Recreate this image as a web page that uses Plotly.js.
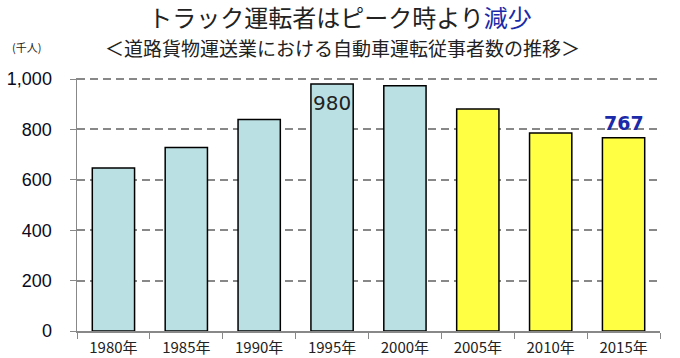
<!DOCTYPE html>
<html><head><meta charset="utf-8">
<script src="https://cdn.plot.ly/plotly-3.0.1.min.js"></script>
<style>html,body{margin:0;padding:0;background:#fff}#c{width:680px;height:358px}</style>
</head><body><div id="c"></div>
<script>
const years = ['1980年','1985年','1990年','1995年','2000年','2005年','2010年','2015年'];
const drivers = [647, 728, 839, 980, 973, 881, 786, 767];
const barColors = ['#bbe0e3','#bbe0e3','#bbe0e3','#bbe0e3','#bbe0e3','#ffff44','#ffff44','#ffff44'];
const yTicks = [0, 200, 400, 600, 800, 1000];
const yTickText = ['0','200','400','600','800','1,000'];
const peakIdx = 3, lastIdx = 7;

const cjk = '"Noto Sans CJK JP", "Noto Sans", sans-serif';
const trace = {
  type: 'bar', x: years, y: drivers, width: 0.58,
  marker: {color: barColors, line: {color: '#000', width: 1.5}},
  hoverinfo: 'skip'
};
const layout = {
  width: 680, height: 358,
  margin: {l: 77, r: 20, t: 78, b: 27},
  paper_bgcolor: '#fff', plot_bgcolor: '#fff',
  showlegend: false,
  title: {
    text: 'トラック運転者はピーク時より<span style="color:#1a2aa8">減少</span>',
    font: {family: cjk, size: 24, color: '#222'},
    x: 0.5, xanchor: 'center', xref: 'container',
    y: 1 - 19/358, yref: 'container', yanchor: 'middle'
  },
  xaxis: {
    type: 'category', tickson: 'boundaries', ticks: 'outside', ticklen: 6,
    tickcolor: '#888', showline: true, linecolor: '#888', linewidth: 1.5,
    showgrid: false, ticklabelstandoff: 2,
    tickfont: {family: cjk, size: 15, color: '#222'},
    fixedrange: true
  },
  yaxis: {
    range: [0, 1004], tickvals: yTicks, ticktext: yTickText,
    ticks: 'outside', ticklen: 6, tickcolor: '#888',
    showline: true, linecolor: '#888', linewidth: 1.5,
    showgrid: true, gridcolor: '#888', gridwidth: 2, griddash: '8px,5px',
    zeroline: false, ticklabelstandoff: 14,
    tickfont: {family: '"Liberation Sans", Arial, sans-serif', size: 18, color: '#0a0a20'},
    fixedrange: true
  },
  annotations: [
    {x: years[peakIdx], y: drivers[peakIdx], xref: 'x', yref: 'y', text: String(drivers[peakIdx]),
     showarrow: false, yanchor: 'top', yshift: -5,
     font: {family: '"DejaVu Sans", sans-serif', size: 20, color: '#222'}},
    {x: years[lastIdx], y: drivers[lastIdx], xref: 'x', yref: 'y', text: '<b>' + drivers[lastIdx] + '</b>',
     showarrow: false, yanchor: 'bottom', yshift: 2,
     font: {family: '"DejaVu Sans", sans-serif', size: 19, color: '#1a2aa8'}},
    {x: 0.455, y: 1.122, xref: 'paper', yref: 'paper', text: '＜道路貨物運送業における自動車運転従事者数の推移＞',
     showarrow: false, xanchor: 'center', yanchor: 'middle',
     font: {family: cjk, size: 19, color: '#222'}},
    {x: -0.087, y: 1.122, xref: 'paper', yref: 'paper', text: '(千人)',
     showarrow: false, xanchor: 'center', yanchor: 'middle',
     font: {family: cjk, size: 11, color: '#222'}}
  ]
};
Plotly.newPlot('c', [trace], layout, {displayModeBar: false, staticPlot: true});
</script></body></html>
